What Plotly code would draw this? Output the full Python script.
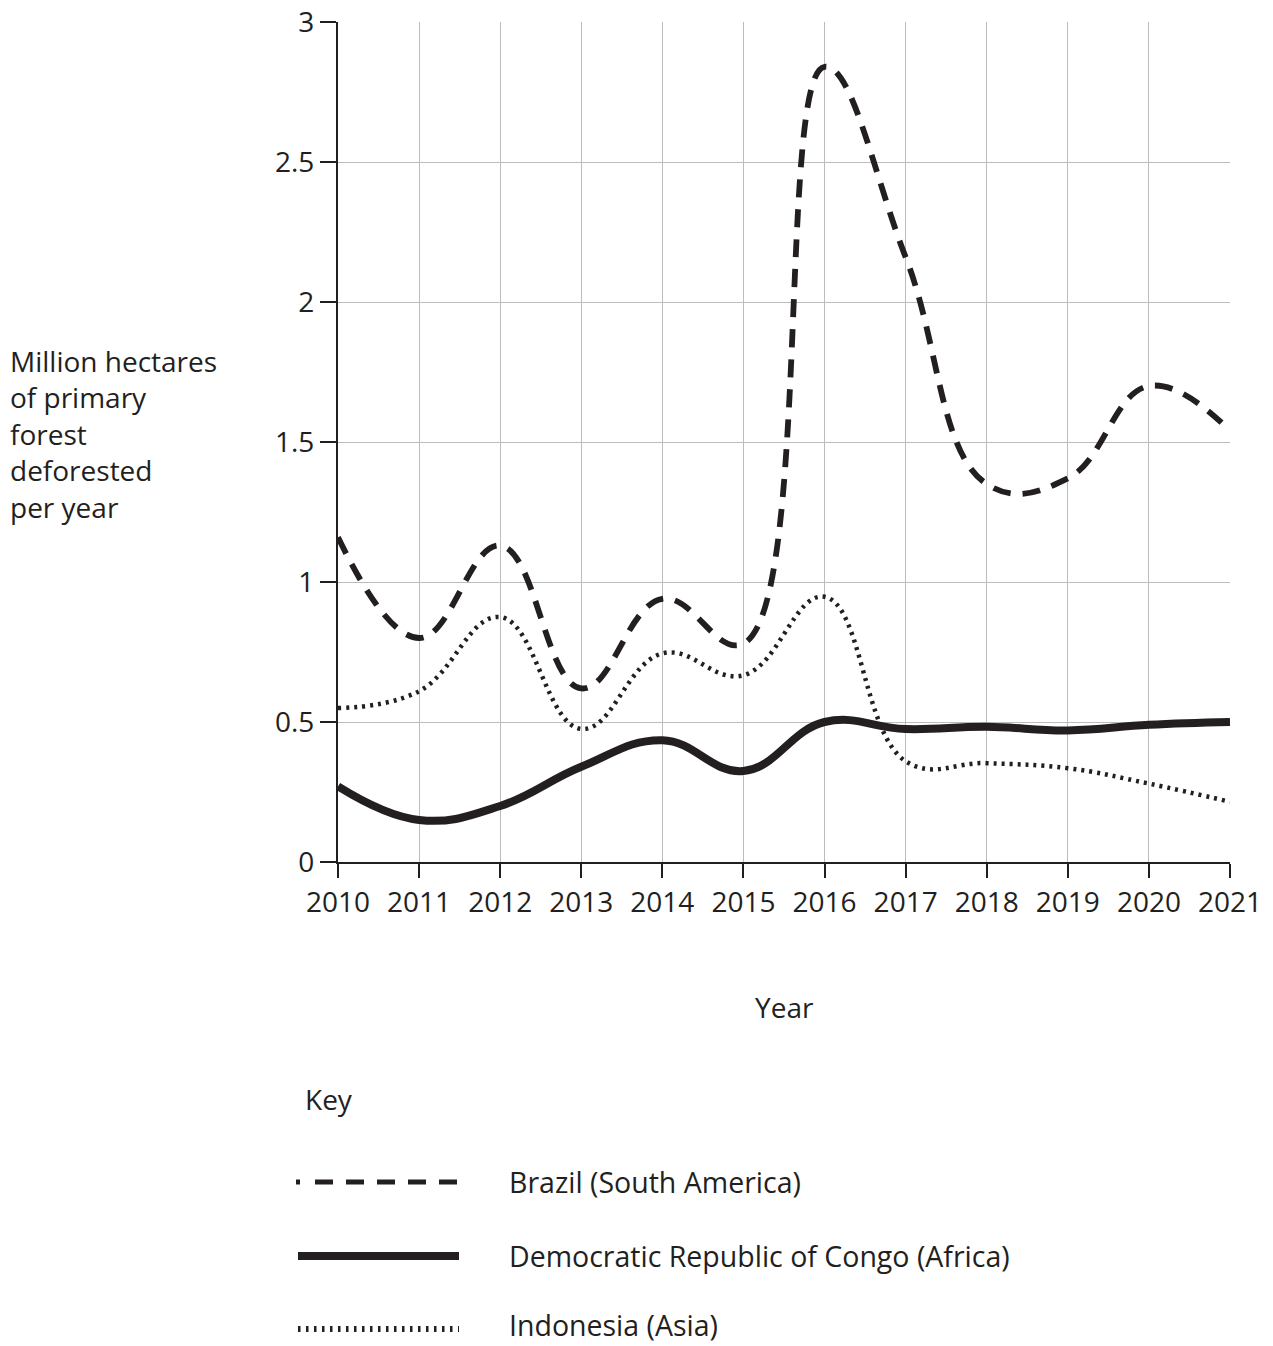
import plotly.graph_objects as go

years = [2010, 2011, 2012, 2013, 2014, 2015, 2016, 2017, 2018, 2019, 2020, 2021]
brazil = [1.16, 0.80, 1.13, 0.62, 0.94, 0.78, 2.84, 2.16, 1.35, 1.37, 1.70, 1.54]
drc = [0.27, 0.15, 0.20, 0.34, 0.435, 0.325, 0.50, 0.475, 0.483, 0.47, 0.49, 0.50]
indonesia = [0.55, 0.61, 0.875, 0.475, 0.745, 0.667, 0.947, 0.36, 0.353, 0.335, 0.28, 0.215]
y_ticks = [0, 0.5, 1, 1.5, 2, 2.5, 3]
y_tick_labels = ["0", "0.5", "1", "1.5", "2", "2.5", "3"]
legend_labels = ["Brazil (South America)", "Democratic Republic of Congo (Africa)", "Indonesia (Asia)"]

INK = "#231f20"
FONT = "Open Sans"
FS = 28

fig = go.Figure()
fig.add_trace(go.Scatter(x=years, y=indonesia, mode="lines",
                         line=dict(color=INK, width=4.5, dash="3px,5px", shape="spline", smoothing=1.2),
                         showlegend=False, hoverinfo="skip"))
fig.add_trace(go.Scatter(x=years, y=drc, mode="lines",
                         line=dict(color=INK, width=8, shape="spline", smoothing=1.2),
                         showlegend=False, hoverinfo="skip"))
fig.add_trace(go.Scatter(x=years, y=brazil, mode="lines",
                         line=dict(color=INK, width=5.8, dash="18px,12px", shape="spline", smoothing=1.2),
                         showlegend=False, hoverinfo="skip"))

W, H = 1273, 1346
L, R, T, B = 338, 43, 22, 484
pw = W - L - R
ph = H - T - B

def px(x):
    return (x - L) / pw

def py(y):
    return (H - B - y) / ph

shapes = [
    dict(type="line", xref="paper", yref="paper", x0=px(296), x1=px(300), y0=py(1182), y1=py(1182),
         line=dict(color=INK, width=5)),
    dict(type="line", xref="paper", yref="paper", x0=px(315), x1=px(462), y0=py(1182), y1=py(1182),
         line=dict(color=INK, width=5, dash="18px,13px")),
    dict(type="line", xref="paper", yref="paper", x0=px(298), x1=px(459), y0=py(1256), y1=py(1256),
         line=dict(color=INK, width=8)),
    dict(type="line", xref="paper", yref="paper", x0=px(298), x1=px(459), y0=py(1329), y1=py(1329),
         line=dict(color=INK, width=6, dash="2.5px,5.5px")),
]

annotations = [
    dict(text="Million hectares<br>of primary<br>forest<br>deforested<br>per year", xref="paper", yref="paper",
         x=px(8), y=py(434), xanchor="left", yanchor="middle", align="left", showarrow=False,
         font=dict(family=FONT, size=FS, color=INK)),
    dict(text="Year", xref="paper", yref="paper", x=px(784), y=py(1007), xanchor="center", yanchor="middle",
         showarrow=False, font=dict(family=FONT, size=FS, color=INK)),
    dict(text="Key", xref="paper", yref="paper", x=px(303), y=py(1099), xanchor="left", yanchor="middle",
         showarrow=False, font=dict(family=FONT, size=FS, color=INK)),
]
for label, yy in zip(legend_labels, [1182, 1256, 1325]):
    annotations.append(dict(text=label, xref="paper", yref="paper", x=px(507), y=py(yy),
                            xanchor="left", yanchor="middle", showarrow=False,
                            font=dict(family=FONT, size=28.5, color=INK)))

fig.update_layout(
    width=W, height=H,
    margin=dict(l=L, r=R, t=T, b=B, pad=0, autoexpand=False),
    paper_bgcolor="white", plot_bgcolor="white",
    font=dict(family=FONT, size=FS, color=INK),
    shapes=shapes, annotations=annotations,
    showlegend=False,
    xaxis=dict(range=[2010, 2021], tickmode="array", tickvals=years, ticktext=[str(y) for y in years],
               showgrid=True, gridcolor="#bcbcbe", gridwidth=1.2, automargin=False,
               showline=True, linecolor=INK, linewidth=2.2, ticks="outside", ticklen=14, tickwidth=2.2,
               tickcolor=INK, zeroline=False, tickfont=dict(family=FONT, size=FS, color=INK)),
    yaxis=dict(range=[0, 3], tickmode="array", tickvals=y_ticks, ticktext=y_tick_labels,
               showgrid=True, gridcolor="#bcbcbe", gridwidth=1.2, automargin=False,
               showline=True, linecolor=INK, linewidth=2.2, ticks="outside", ticklen=16, tickwidth=2.2,
               tickcolor=INK, zeroline=False, tickfont=dict(family=FONT, size=FS, color=INK)),
)

fig.write_html("out.html", config={"displayModeBar": False},
               post_script="document.body.style.margin='0';document.body.style.overflow='hidden';")
